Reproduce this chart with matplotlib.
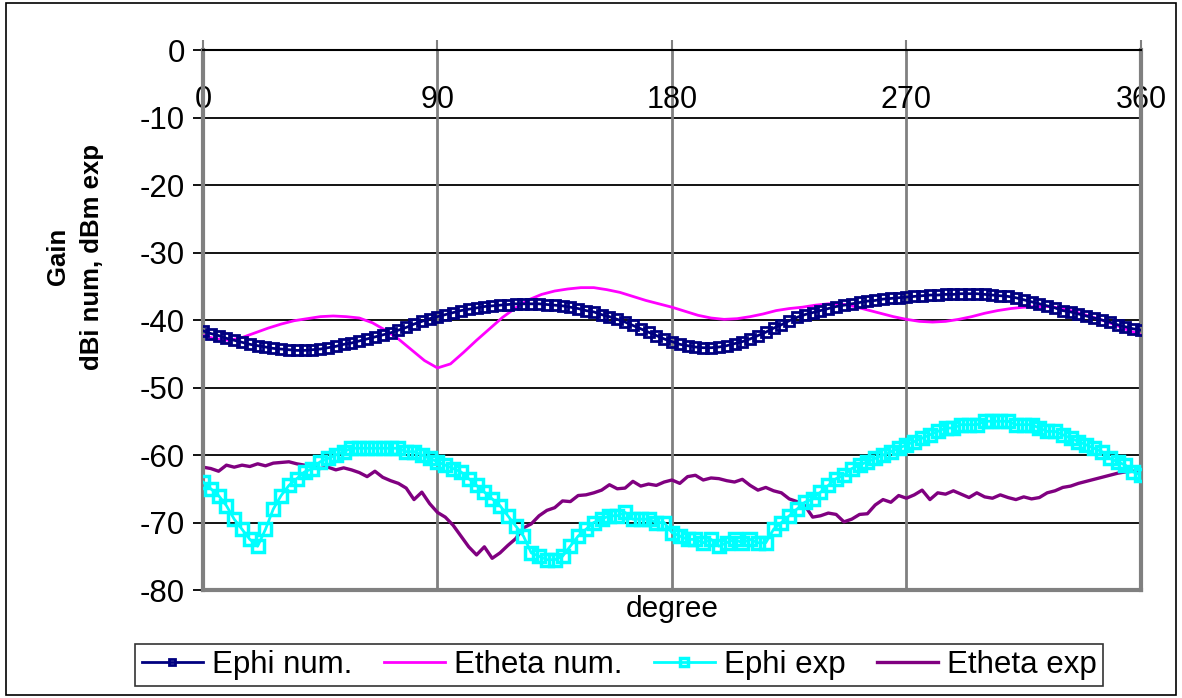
import numpy as np
import matplotlib
matplotlib.use("Agg")
from matplotlib import pyplot as plt
from matplotlib.patches import Rectangle

plt.rcParams['font.family'] = ['Liberation Sans', 'DejaVu Sans']
plt.rcParams['axes.unicode_minus'] = False

# 3 degree grid for the Ephi series and Etheta exp, 5 degree grid for Etheta num
deg3 = np.arange(0, 361, 3)
deg5 = np.arange(0, 361, 5)

ephi_num = [
    -41.6, -42.0, -42.3, -42.7, -43.0, -43.3, -43.6, -43.8, -44.0, -44.2,
    -44.3, -44.4, -44.5, -44.5, -44.4, -44.3, -44.1, -43.9, -43.6, -43.4,
    -43.1, -42.8, -42.5, -42.2, -41.9, -41.5, -41.1, -40.6, -40.2, -39.8,
    -39.5, -39.2, -38.9, -38.6, -38.4, -38.2, -38.0, -37.9, -37.8, -37.7,
    -37.6, -37.6, -37.6, -37.6, -37.7, -37.8, -37.9, -38.1, -38.3, -38.6,
    -38.8, -39.2, -39.5, -39.9, -40.3, -40.8, -41.3, -41.8, -42.3, -42.8,
    -43.2, -43.6, -43.8, -44.0, -44.1, -44.1, -44.0, -43.8, -43.5, -43.2,
    -42.8, -42.3, -41.8, -41.2, -40.7, -40.1, -39.6, -39.2, -38.9, -38.6,
    -38.3, -38.0, -37.8, -37.6, -37.4, -37.2, -37.1, -36.9, -36.8, -36.7,
    -36.6, -36.5, -36.4, -36.3, -36.3, -36.2, -36.2, -36.1, -36.1, -36.1,
    -36.2, -36.3, -36.4, -36.5, -36.7, -37.0, -37.3, -37.6, -37.9, -38.2,
    -38.6, -38.8, -39.1, -39.4, -39.7, -40.0, -40.3, -40.7, -41.0, -41.3,
    -41.5]

etheta_num = [
    -42.3, -42.8, -43.0, -42.6, -41.9, -41.2, -40.6, -40.1, -39.8, -39.5,
    -39.4, -39.5, -39.7, -40.4, -41.5, -42.8, -44.4, -46.0, -47.1, -46.5,
    -44.8, -43.0, -41.3, -39.6, -38.2, -37.0, -36.2, -35.7, -35.4, -35.2,
    -35.2, -35.5, -35.9, -36.5, -37.1, -37.6, -38.1, -38.7, -39.3, -39.7,
    -39.9, -39.8, -39.5, -39.1, -38.6, -38.3, -38.1, -37.8, -37.6, -37.6,
    -38.0, -38.5, -39.0, -39.5, -39.9, -40.2, -40.3, -40.2, -39.9, -39.5,
    -39.0, -38.6, -38.3, -38.1, -38.0, -38.0, -38.3, -38.8, -39.4, -40.0,
    -40.7, -41.5, -42.2]

ephi_exp = [
    -64.0, -65.0, -66.0, -67.5, -69.5, -71.0, -72.5, -73.5, -71.0, -68.0,
    -66.0, -64.5, -63.5, -62.5, -62.0, -61.0, -60.5, -60.0, -59.5, -59.0,
    -59.0, -59.0, -59.0, -59.0, -59.0, -59.0, -59.5, -59.5, -60.0, -60.5,
    -61.0, -61.5, -62.0, -62.5, -63.5, -64.5, -65.5, -66.5, -67.5, -69.0,
    -70.5, -72.0, -74.5, -75.0, -75.5, -75.5, -75.0, -73.5, -72.0, -71.0,
    -70.0, -69.5, -69.0, -69.0, -68.5, -69.5, -69.5, -69.5, -70.0, -70.0,
    -71.5, -72.0, -72.5, -72.5, -73.0, -72.5, -73.5, -73.0, -72.5, -73.0,
    -72.5, -73.0, -73.0, -71.0, -70.0, -69.0, -68.0, -67.0, -66.5, -65.5,
    -64.5, -63.5, -63.0, -62.0, -61.5, -61.0, -60.5, -60.0, -59.5, -59.0,
    -58.5, -58.0, -57.5, -57.0, -56.5, -56.0, -56.0, -55.5, -55.5, -55.5,
    -55.0, -55.0, -55.0, -55.0, -55.5, -55.5, -55.5, -56.0, -56.5, -56.5,
    -57.0, -57.5, -58.0, -58.5, -59.0, -59.5, -60.5, -61.0, -61.5, -62.5,
    -63.0]

etheta_exp = [
    -61.8, -62.0, -62.4, -61.5, -61.8, -61.5, -61.7, -61.3, -61.6, -61.2,
    -61.1, -61.0, -61.3, -61.5, -61.6, -62.0, -61.8, -62.2, -61.9, -62.2,
    -62.6, -63.2, -62.4, -63.3, -63.8, -64.2, -64.9, -66.6, -65.5, -67.2,
    -68.5, -69.2, -70.4, -72.0, -73.6, -74.8, -73.6, -75.3, -74.5, -73.4,
    -72.4, -70.8, -70.2, -69.0, -68.2, -67.8, -66.8, -66.9, -66.0, -65.9,
    -65.6, -65.2, -64.4, -65.0, -64.9, -63.9, -64.6, -64.3, -64.5, -64.0,
    -63.7, -64.2, -63.2, -63.0, -63.7, -63.4, -63.5, -63.8, -64.0, -63.6,
    -64.5, -65.2, -64.8, -65.3, -65.6, -66.5, -66.9, -67.5, -69.2, -69.0,
    -68.6, -68.8, -69.9, -69.5, -68.8, -68.7, -67.4, -66.6, -67.0, -66.0,
    -66.4, -65.9, -65.2, -66.6, -65.6, -65.8, -65.3, -65.8, -66.3, -65.6,
    -66.2, -66.4, -65.9, -66.3, -66.6, -66.2, -66.5, -66.3, -65.6, -65.3,
    -64.8, -64.6, -64.2, -63.9, -63.6, -63.3, -63.0, -62.7, -62.5, -62.4,
    -62.3]

xticks = [0, 90, 180, 270, 360]
yticks = [0, -10, -20, -30, -40, -50, -60, -70, -80]

fig = plt.figure(figsize=(11.82, 6.98), dpi=100)
ax = fig.add_axes([0.1717, 0.1547, 0.7936, 0.7736])

ax.plot(deg3, ephi_num, color='#000080', lw=2, marker='s', ms=7,
        mfc='none', mec='#000080', mew=2.0, zorder=5, label='Ephi num.')
ax.plot(deg5, etheta_num, color='#FF00FF', lw=2, zorder=3, label='Etheta num.')
ax.plot(deg3, ephi_exp, color='#00FFFF', lw=2, marker='s', ms=8,
        mfc='none', mec='#00FFFF', mew=2.5, zorder=4, label='Ephi exp')
ax.plot(deg3, etheta_exp, color='#800080', lw=2.4, zorder=2, label='Etheta exp')

ax.set_xlim(0, 360)
ax.set_ylim(-80, 0)
ax.set_yticks(yticks)
ax.set_xticks(xticks)

# horizontal grid black, vertical grid gray
for v in yticks[1:-1]:
    ax.axhline(v, color='black', lw=1.3, zorder=1)
for d in xticks[1:-1]:
    ax.axvline(d, color='#808080', lw=2, zorder=1)

for s in ['left', 'bottom', 'right']:
    ax.spines[s].set_color('#808080')
    ax.spines[s].set_linewidth(3)
ax.spines['top'].set_color('black')
ax.spines['top'].set_linewidth(1.5)

ax.xaxis.tick_top()
ax.tick_params(axis='x', direction='out', length=7, color='#808080', width=1.5,
               labeltop=True, labelbottom=False, labelsize=22, pad=-54)
ax.tick_params(axis='y', direction='out', length=7, color='black', width=1.3,
               labelsize=22.5, pad=6)

ax.set_ylabel('Gain\ndBi num, dBm exp', fontsize=18.5, fontweight='bold',
              linespacing=1.5)
ax.yaxis.set_label_coords(-0.106, 0.617)
ax.text(0.5, -0.035, 'degree', transform=ax.transAxes, ha='center', va='center',
        fontsize=21.5)

leg = fig.legend(loc='center', bbox_to_anchor=(0.524, 0.047), ncol=4,
                 fontsize=22.5, frameon=True, fancybox=False, edgecolor='black',
                 handlelength=1.95, handletextpad=0.3, columnspacing=1.0,
                 borderpad=0.2, borderaxespad=0, markerscale=0.7)
leg.get_frame().set_linewidth(1.2)

# outer chart border
fig.patches.append(Rectangle((0.005, 0.005), 0.99, 0.99, transform=fig.transFigure,
                             fill=False, edgecolor='black', lw=1.2))

fig.savefig('out.png', dpi=100)
